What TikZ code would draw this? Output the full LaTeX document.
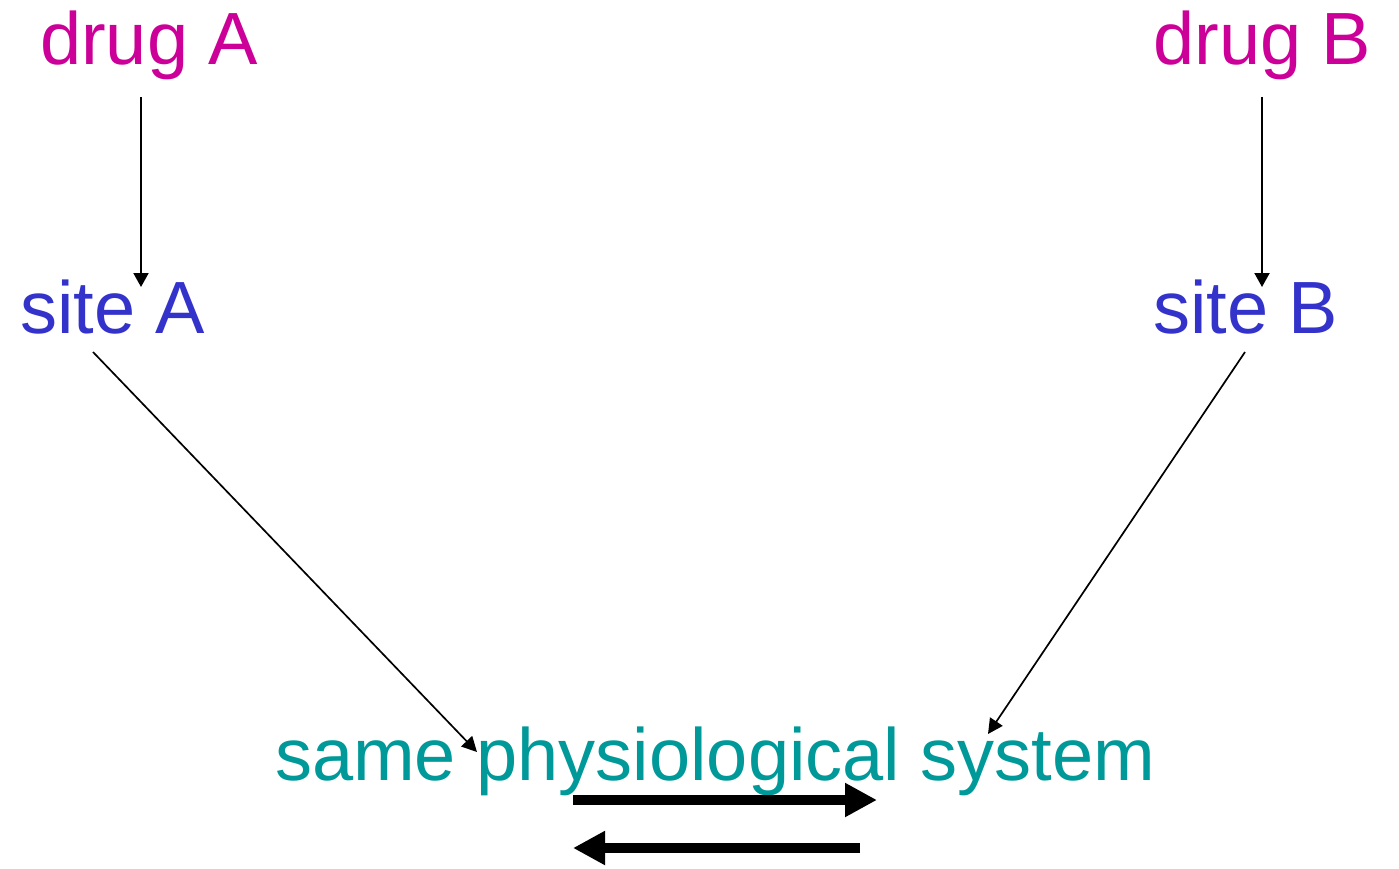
\documentclass[tikz,border=0pt]{standalone}
\usepackage{fontspec}
\setmainfont{Liberation Sans}
\usetikzlibrary{arrows.meta}
\definecolor{drugcol}{HTML}{CC0099}
\definecolor{sitecol}{HTML}{3333CC}
\definecolor{syscol}{HTML}{009999}
\begin{document}
\begin{tikzpicture}[x=1pt,y=-1pt,
  lbl/.style={anchor=base west,inner sep=0pt,font=\fontsize{74}{80}\selectfont},
  drug/.style={lbl,text=drugcol},
  site/.style={lbl,text=sitecol},
  sys/.style={lbl,text=syscol},
  thinarrow/.style={line width=2pt,-{Triangle[length=14pt,width=15pt]}},
  diagarrow/.style={line width=1.7pt,-{Triangle[length=15pt,width=15pt]}},
  bigarrow/.style={line width=10pt,-{Triangle[length=32pt,width=32pt]}}]
\useasboundingbox[fill=white] (0,0) rectangle (1399,869);
% labels
\node[drug] (drugA) at (40,65) {drug A};
\node[drug] (drugB) at (1153,65) {drug B};
\node[site] (siteA) at (20,333) {site A};
\node[site] (siteB) at (1153,333) {site B};
\node[sys] (sys) at (275,780) {same physiological system};
% connector end points
\coordinate (a1) at (141,97);
\coordinate (a2) at (141,287);
\coordinate (b1) at (1262,97);
\coordinate (b2) at (1262,287);
\coordinate (c1) at (93,352);
\coordinate (c2) at (477,752);
\coordinate (d1) at (1245,352);
\coordinate (d2) at (988,734);
\coordinate (e1) at (573,800);
\coordinate (e2) at (877,800);
\coordinate (f1) at (860,848);
\coordinate (f2) at (573,848);
% connectors
\draw[thinarrow] (a1) -- (a2);
\draw[thinarrow] (b1) -- (b2);
\draw[diagarrow] (c1) -- (c2);
\draw[diagarrow] (d1) -- (d2);
% equilibrium arrows
\draw[bigarrow] (e1) -- (e2);
\draw[bigarrow] (f1) -- (f2);
\end{tikzpicture}
\end{document}
